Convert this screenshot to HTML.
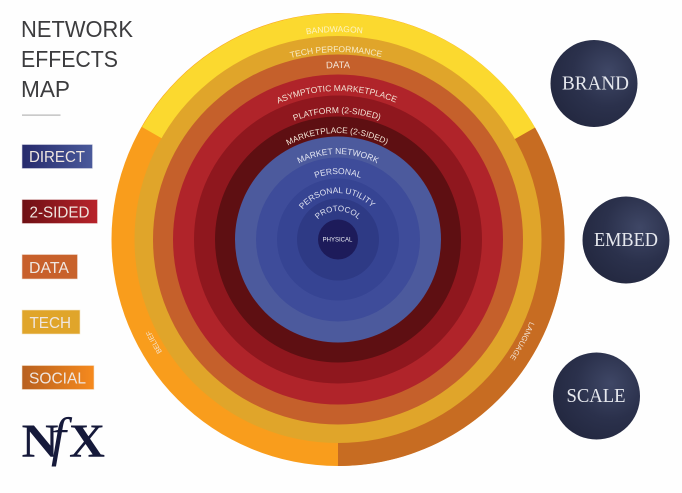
<!DOCTYPE html>
<html><head><meta charset="utf-8">
<style>
html,body{margin:0;padding:0;background:#fefefe;width:682px;height:493px;overflow:hidden}
svg{display:block;filter:blur(0.35px)}
.a{font-family:"Liberation Sans",sans-serif;fill:#f3e4d6;text-anchor:middle}
.t{font-family:"Liberation Sans",sans-serif;fill:#3c3c3e;font-size:23px}
.l{font-family:"Liberation Sans",sans-serif;fill:#efe6e0;font-size:15.5px}
.s{font-family:"Liberation Serif",serif;fill:#e6e8ee;font-size:19.5px;text-anchor:middle}
</style></head><body>
<svg width="682" height="493" viewBox="0 0 682 493" xmlns="http://www.w3.org/2000/svg">
<defs>
<linearGradient id="g1"><stop offset="0" stop-color="#262a6c"/><stop offset="1" stop-color="#4a5a9b"/></linearGradient>
<linearGradient id="g2"><stop offset="0" stop-color="#6e1014"/><stop offset="1" stop-color="#b8232b"/></linearGradient>
<linearGradient id="g3"><stop offset="0" stop-color="#c85f2b"/><stop offset="1" stop-color="#c8622b"/></linearGradient>
<linearGradient id="g5"><stop offset="0" stop-color="#b8601f"/><stop offset="1" stop-color="#f68a1e"/></linearGradient>
<radialGradient id="b" cx="0.66" cy="0.36" r="0.72"><stop offset="0" stop-color="#3f4766"/><stop offset="0.55" stop-color="#2b314c"/><stop offset="1" stop-color="#232840"/></radialGradient>
<path id="r207" d="M131,239 A207,207 0 0 1 545,239"/>
<path id="r187" d="M151,239 A187,187 0 0 1 525,239"/>
<path id="r171" d="M167,239 A171,171 0 0 1 509,239"/>
<path id="r148" d="M190,239 A148,148 0 0 1 486,239"/>
<path id="r126" d="M212,239 A126,126 0 0 1 464,239"/>
<path id="r106" d="M232,239 A106,106 0 0 1 444,239"/>
<path id="r85" d="M253,239 A85,85 0 0 1 423,239"/>
<path id="r65" d="M273,239 A65,65 0 0 1 403,239"/>
<path id="r46" d="M292,239 A46,46 0 0 1 384,239"/>
<path id="r28" d="M310,239 A28,28 0 0 1 366,239"/>
<path id="r209" d="M129,239 A209,209 0 0 1 547,239"/>
</defs>
<rect width="682" height="493" fill="#fefefe"/>

<!-- outer ring -->
<circle cx="338" cy="239.5" r="226.5" fill="#f99d1c"/>
<path d="M338,466 A226.5,226.5 0 0 0 535,127.5 L338,239.5 Z" fill="#c76c22"/>
<path d="M142,127 A226.5,226.5 0 0 1 535,127.5 L338,239.5 Z" fill="#fbd92f"/>
<circle cx="338" cy="239.5" r="203.5" fill="#e0a52a"/>
<circle cx="338" cy="239.5" r="185" fill="#c5602b"/>
<circle cx="338" cy="239.5" r="165" fill="#b0242a"/>
<circle cx="338" cy="239.5" r="144" fill="#8f171e"/>
<circle cx="338" cy="239.5" r="123" fill="#5e0f12"/>
<circle cx="338" cy="239.5" r="103" fill="#4c5a9d"/>
<circle cx="338" cy="239.5" r="82" fill="#3e4c9a"/>
<circle cx="338" cy="239.5" r="61" fill="#364493"/>
<circle cx="338" cy="239.5" r="41" fill="#2e3a85"/>
<circle cx="338" cy="239.5" r="20" fill="#1d1b5a"/>

<!-- ring labels -->
<text class="a" font-size="8.5" style="fill:#fdf3c4" transform="rotate(-1 338 239)"><textPath href="#r207" startOffset="50%">BANDWAGON</textPath></text>
<text class="a" font-size="8.5" style="fill:#f8ebc8" transform="rotate(-0.6 338 239)"><textPath href="#r187" startOffset="50%">TECH PERFORMANCE</textPath></text>
<text class="a" font-size="9.5"><textPath href="#r171" startOffset="50%">DATA</textPath></text>
<text class="a" font-size="8.5" transform="rotate(-0.5 338 239)"><textPath href="#r148" startOffset="50%">ASYMPTOTIC MARKETPLACE</textPath></text>
<text class="a" font-size="8.5" transform="rotate(-0.5 338 239)"><textPath href="#r126" startOffset="50%">PLATFORM (2-SIDED)</textPath></text>
<text class="a" font-size="8.3" transform="rotate(-0.5 338 239)"><textPath href="#r106" startOffset="50%">MARKETPLACE (2-SIDED)</textPath></text>
<text class="a" font-size="8.5" style="fill:#e4e6f2"><textPath href="#r85" startOffset="50%">MARKET NETWORK</textPath></text>
<text class="a" font-size="8.5" style="fill:#dfe2f0"><textPath href="#r65" startOffset="50%">PERSONAL</textPath></text>
<text class="a" font-size="8.3" style="fill:#dfe2f0" transform="rotate(-1.5 338 239)"><textPath href="#r46" startOffset="50%">PERSONAL UTILITY</textPath></text>
<text class="a" font-size="8" style="fill:#dfe2f0"><textPath href="#r28" startOffset="50%">PROTOCOL</textPath></text>
<text class="a" x="337.5" y="241.5" font-size="6" style="fill:#eef0f6">PHYSICAL</text>
<text class="a" font-size="7.2" transform="rotate(-119.3 338 239)"><textPath href="#r209" startOffset="50%">BELIEF</textPath></text>
<text class="a" font-size="7.5" transform="rotate(119 338 239)"><textPath href="#r209" startOffset="50%">LANGUAGE</textPath></text>

<!-- title -->
<text class="t" x="21" y="37" textLength="112" lengthAdjust="spacingAndGlyphs">NETWORK</text>
<text class="t" x="21" y="67" textLength="97" lengthAdjust="spacingAndGlyphs">EFFECTS</text>
<text class="t" x="21" y="97" textLength="49" lengthAdjust="spacingAndGlyphs">MAP</text>
<rect x="22" y="114.5" width="38.5" height="1.2" fill="#b5b5b5"/>

<!-- legend -->
<rect x="22" y="144.5" width="70.5" height="24" fill="url(#g1)" stroke="#d8d8e4" stroke-width="0.6"/>
<text class="l" x="29" y="162" textLength="56" lengthAdjust="spacingAndGlyphs">DIRECT</text>
<rect x="22" y="199.5" width="75.5" height="24" fill="url(#g2)" stroke="#eed8d8" stroke-width="0.6"/>
<text class="l" x="29.5" y="217.5" textLength="60" lengthAdjust="spacingAndGlyphs">2-SIDED</text>
<rect x="22" y="254.5" width="55.5" height="24.5" fill="url(#g3)" stroke="#f0dccf" stroke-width="0.6"/>
<text class="l" x="29" y="273" textLength="40" lengthAdjust="spacingAndGlyphs">DATA</text>
<rect x="22" y="310" width="58" height="24" fill="#e0a52a" stroke="#f4e6c8" stroke-width="0.6"/>
<text class="l" x="29.5" y="328" textLength="41.5" lengthAdjust="spacingAndGlyphs">TECH</text>
<rect x="22" y="365.5" width="72" height="24" fill="url(#g5)" stroke="#f4e2cc" stroke-width="0.6"/>
<text class="l" x="29" y="383.5" textLength="57" lengthAdjust="spacingAndGlyphs">SOCIAL</text>

<!-- logo -->
<text x="21.5" y="457" font-family="'Liberation Serif',serif" font-weight="bold" font-size="48" fill="#15193a" textLength="37" lengthAdjust="spacingAndGlyphs">N</text>
<text x="51" y="455" font-family="'Liberation Serif',serif" font-style="italic" font-size="54" fill="#15193a">f</text>
<text x="69" y="457" font-family="'Liberation Serif',serif" font-weight="bold" font-size="48" fill="#15193a" textLength="36" lengthAdjust="spacingAndGlyphs">X</text>

<!-- balls -->
<circle cx="594" cy="83.5" r="43.5" fill="url(#b)"/>
<text class="s" x="595.5" y="89.5" textLength="67" lengthAdjust="spacingAndGlyphs">BRAND</text>
<circle cx="626" cy="240" r="43.5" fill="url(#b)"/>
<text class="s" x="626" y="246" textLength="64" lengthAdjust="spacingAndGlyphs">EMBED</text>
<circle cx="596.5" cy="396" r="43.5" fill="url(#b)"/>
<text class="s" x="596" y="402" textLength="59" lengthAdjust="spacingAndGlyphs">SCALE</text>
</svg>
</body></html>
